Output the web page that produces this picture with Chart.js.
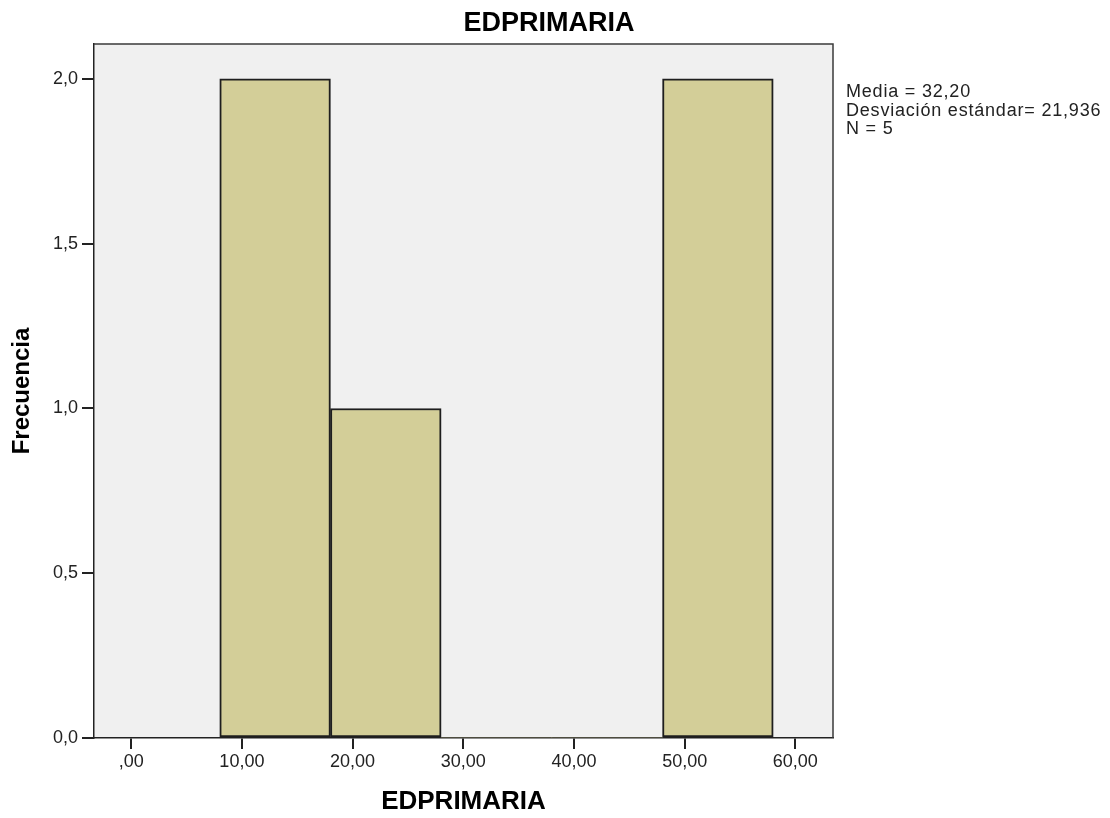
<!DOCTYPE html>
<html>
<head>
<meta charset="utf-8">
<script src="https://cdn.jsdelivr.net/npm/chart.js@4.4.0/dist/chart.umd.min.js"></script>
<style>
  html, body { margin: 0; padding: 0; background: #ffffff; }
  #wrap { width: 1110px; height: 818px; position: relative; }
</style>
</head>
<body>
<div id="wrap"><canvas id="c" width="1110" height="818"></canvas></div>
<script>
// ---- data ----
const chartTitle = 'EDPRIMARIA';
const xAxisTitle = 'EDPRIMARIA';
const yAxisTitle = 'Frecuencia';
const binStarts = [8, 18, 28, 38, 48];
const binWidth = 10;
const counts = [2, 1, 0, 0, 2];
const xTickValues = [0, 10, 20, 30, 40, 50, 60];
const xTickLabels = [',00', '10,00', '20,00', '30,00', '40,00', '50,00', '60,00'];
const yTickValues = [0, 0.5, 1, 1.5, 2];
const yTickLabels = ['0,0', '0,5', '1,0', '1,5', '2,0'];
const statsLines = ['Media = 32,20', 'Desviación estándar= 21,936', 'N = 5'];

// ---- styles ----
const FONT = "'Liberation Sans', Arial, sans-serif";
const barFill = '#d3ce98';
const barEdge = '#1e1e1e';
const plotBg = '#f0f0f0';
const axisColor = '#222222';

const points = binStarts.map((s, i) => ({ x: s + binWidth / 2, y: counts[i] }));

const framePlugin = {
  id: 'frame',
  beforeDraw(chart) {
    const { ctx, chartArea: a } = chart;
    ctx.save();
    ctx.fillStyle = plotBg;
    ctx.fillRect(a.left, a.top, a.right - a.left, a.bottom - a.top);
    ctx.restore();
  },
  afterDraw(chart) {
    const { ctx, chartArea: a } = chart;
    ctx.save();
    ctx.strokeStyle = '#3a3a3a';
    ctx.lineWidth = 1.5;
    ctx.beginPath();
    ctx.moveTo(a.left, a.top);
    ctx.lineTo(a.right, a.top);
    ctx.lineTo(a.right, a.bottom);
    ctx.stroke();
    // main title
    ctx.fillStyle = '#000';
    ctx.font = 'bold 27px ' + FONT;
    ctx.textAlign = 'center';
    ctx.textBaseline = 'alphabetic';
    ctx.fillText(chartTitle, 549, 31);
    // stats text
    ctx.font = '18px ' + FONT;
    if ('letterSpacing' in ctx) ctx.letterSpacing = '0.8px';
    ctx.textAlign = 'left';
    ctx.fillStyle = '#222';
    statsLines.forEach((t, i) => ctx.fillText(t, 846, 96.7 + i * 18.8));
    ctx.restore();
  }
};

new Chart(document.getElementById('c'), {
  type: 'bar',
  data: {
    datasets: [{
      data: points,
      backgroundColor: barFill,
      borderColor: barEdge,
      borderWidth: (c) => (c.raw && c.raw.y === 0 ? 0 : 2),
      borderSkipped: false,
      barPercentage: 1,
      categoryPercentage: 1
    }]
  },
  options: {
    responsive: false,
    animation: false,
    events: [],
    layout: { padding: { top: 44, right: 277, bottom: 0, left: 0 } },
    plugins: { legend: { display: false }, tooltip: { enabled: false }, title: { display: false } },
    scales: {
      x: {
        type: 'linear',
        min: -3.36,
        max: 63.4,
        offset: false,
        afterFit(s) { s.height = 80; },
        afterBuildTicks(s) { s.ticks = xTickValues.map(v => ({ value: v })); },
        ticks: {
          includeBounds: false,
          autoSkip: false,
          maxRotation: 0,
          padding: 2,
          color: '#222',
          font: { family: FONT, size: 18 },
          callback: (v) => { const i = xTickValues.indexOf(v); return i >= 0 ? xTickLabels[i] : ''; }
        },
        grid: { display: true, drawOnChartArea: false, drawTicks: true, tickLength: 11, color: axisColor, lineWidth: 2, offset: false },
        border: { display: true, color: axisColor, width: 1.5 },
        title: { display: true, text: xAxisTitle, color: '#000', font: { family: FONT, size: 26, weight: 'bold' }, padding: { top: 0, bottom: 1 } }
      },
      y: {
        type: 'linear',
        min: 0,
        max: 2.106,
        afterFit(s) { s.width = 94; },
        afterBuildTicks(s) { s.ticks = yTickValues.map(v => ({ value: v })); },
        ticks: {
          includeBounds: false,
          padding: 4,
          color: '#222',
          font: { family: FONT, size: 18 },
          callback: (v) => { const i = yTickValues.indexOf(v); return i >= 0 ? yTickLabels[i] : ''; }
        },
        grid: { display: true, drawOnChartArea: false, drawTicks: true, tickLength: 12, color: axisColor, lineWidth: 2 },
        border: { display: true, color: axisColor, width: 1.5 },
        title: { display: true, text: yAxisTitle, color: '#000', font: { family: FONT, size: 24, weight: 'bold' }, padding: { top: 8, bottom: 0 } }
      }
    }
  },
  plugins: [framePlugin]
});
</script>
</body>
</html>
